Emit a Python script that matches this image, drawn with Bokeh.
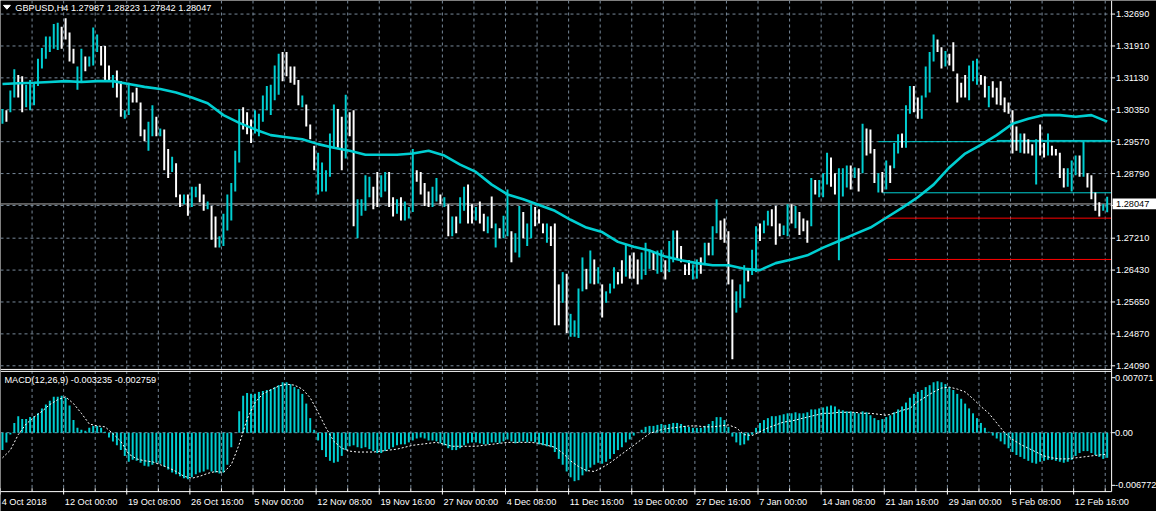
from bokeh.plotting import figure
from bokeh.models import Range1d, ColumnDataSource
from bokeh.core.properties import value
from bokeh.embed import file_html
from bokeh.resources import INLINE

# ---------------- data ----------------
symbol = "GBPUSD,H4"
last_ohlc = ["1.27987", "1.28223", "1.27842", "1.28047"]
bid = 1.28047

# one entry per pair of H4 bars (high, low, 1 = up / 0 = down)
high = [
    1.3037, 1.3034, 1.3082, 1.3134, 1.3120, 1.3117, 1.3096, 1.3108, 1.3098, 1.3160,
    1.3186, 1.3214, 1.3214, 1.3245, 1.3248, 1.3238, 1.3259, 1.3224, 1.3184, 1.3141,
    1.3184, 1.3165, 1.3165, 1.3236, 1.3219, 1.3191, 1.3191, 1.3143, 1.3120, 1.3131,
    1.3105, 1.3034, 1.3101, 1.3077, 1.3089, 1.3053, 1.2987, 1.3006, 1.3046, 1.3018,
    1.2989, 1.2987, 1.2939, 1.2920, 1.2904, 1.2828, 1.2828, 1.2828, 1.2847, 1.2847,
    1.2854, 1.2828, 1.2811, 1.2800, 1.2774, 1.2726, 1.2781, 1.2828, 1.2856, 1.2935,
    1.3037, 1.3041, 1.3029, 1.3011, 1.3034, 1.3025, 1.3070, 1.3093, 1.3096, 1.3143,
    1.3172, 1.3176, 1.3176, 1.3141, 1.3141, 1.3108, 1.3070, 1.3048, 1.2999, 1.2947,
    1.2930, 1.2906, 1.2887, 1.2977, 1.3048, 1.3037, 1.3018, 1.3072, 1.3029, 1.3034,
    1.2816, 1.2816, 1.2875, 1.2871, 1.2847, 1.2883, 1.2875, 1.2883, 1.2883, 1.2821,
    1.2816, 1.2821, 1.2811, 1.2797, 1.2939, 1.2887, 1.2883, 1.2856, 1.2835, 1.2847,
    1.2868, 1.2828, 1.2821, 1.2804, 1.2774, 1.2774, 1.2821, 1.2847, 1.2852, 1.2804,
    1.2797, 1.2811, 1.2781, 1.2774, 1.2823, 1.2757, 1.2745, 1.2776, 1.2840, 1.2738,
    1.2733, 1.2800, 1.2785, 1.2757, 1.2804, 1.2797, 1.2792, 1.2757, 1.2757, 1.2750,
    1.2757, 1.2608, 1.2638, 1.2634, 1.2536, 1.2520, 1.2598, 1.2674, 1.2646, 1.2691,
    1.2669, 1.2650, 1.2608, 1.2591, 1.2610, 1.2650, 1.2638, 1.2667, 1.2705, 1.2679,
    1.2686, 1.2669, 1.2686, 1.2710, 1.2693, 1.2686, 1.2691, 1.2693, 1.2667, 1.2714,
    1.2740, 1.2740, 1.2702, 1.2657, 1.2667, 1.2657, 1.2669, 1.2674, 1.2710, 1.2710,
    1.2750, 1.2816, 1.2764, 1.2769, 1.2738, 1.2620, 1.2591, 1.2608, 1.2655, 1.2646,
    1.2693, 1.2750, 1.2757, 1.2764, 1.2788, 1.2792, 1.2800, 1.2757, 1.2752, 1.2804,
    1.2804, 1.2800, 1.2785, 1.2769, 1.2764, 1.2868, 1.2863, 1.2863, 1.2880, 1.2930,
    1.2918, 1.2880, 1.2892, 1.2892, 1.2899, 1.2899, 1.2894, 1.2892, 1.3001, 1.2989,
    1.2987, 1.2939, 1.2880, 1.2883, 1.2911, 1.2899, 1.2954, 1.2975, 1.2977, 1.3046,
    1.3093, 1.3093, 1.3065, 1.3070, 1.3141, 1.3176, 1.3219, 1.3207, 1.3188, 1.3179,
    1.3172, 1.3200, 1.3124, 1.3101, 1.3120, 1.3143, 1.3155, 1.3160, 1.3120, 1.3117,
    1.3093, 1.3105, 1.3089, 1.3105, 1.3065, 1.3053, 1.3034, 1.2994, 1.2977, 1.2977,
    1.2963, 1.2951, 1.2963, 1.2999, 1.2954, 1.2977, 1.2947, 1.2939, 1.2930, 1.2892,
    1.2892, 1.2911, 1.2923, 1.2923, 1.2958, 1.2880, 1.2875, 1.2833, 1.2809, 1.2804,
    1.28223,
]
low = [
    1.3001, 1.3006, 1.3029, 1.3065, 1.3065, 1.3029, 1.3041, 1.3034, 1.3046, 1.3093,
    1.3136, 1.3160, 1.3176, 1.3184, 1.3181, 1.3184, 1.3207, 1.3153, 1.3148, 1.3084,
    1.3105, 1.3129, 1.3141, 1.3143, 1.3176, 1.3143, 1.3108, 1.3105, 1.3089, 1.3065,
    1.3018, 1.3013, 1.3022, 1.3053, 1.3053, 1.2970, 1.2958, 1.2935, 1.2970, 1.2970,
    1.2970, 1.2887, 1.2868, 1.2883, 1.2821, 1.2797, 1.2804, 1.2776, 1.2797, 1.2821,
    1.2809, 1.2788, 1.2792, 1.2717, 1.2698, 1.2698, 1.2702, 1.2740, 1.2764, 1.2835,
    1.2906, 1.2987, 1.2975, 1.2954, 1.2977, 1.2970, 1.3006, 1.3034, 1.3022, 1.3058,
    1.3072, 1.3105, 1.3117, 1.3101, 1.3096, 1.3046, 1.3041, 1.2994, 1.2963, 1.2887,
    1.2828, 1.2835, 1.2835, 1.2871, 1.2939, 1.2942, 1.2887, 1.2916, 1.2970, 1.2750,
    1.2721, 1.2776, 1.2788, 1.2821, 1.2792, 1.2797, 1.2821, 1.2835, 1.2797, 1.2774,
    1.2781, 1.2764, 1.2764, 1.2769, 1.2785, 1.2859, 1.2828, 1.2800, 1.2797, 1.2797,
    1.2811, 1.2804, 1.2797, 1.2726, 1.2726, 1.2733, 1.2757, 1.2788, 1.2757, 1.2757,
    1.2764, 1.2757, 1.2738, 1.2733, 1.2745, 1.2698, 1.2721, 1.2721, 1.2726, 1.2662,
    1.2686, 1.2674, 1.2721, 1.2702, 1.2721, 1.2750, 1.2757, 1.2733, 1.2710, 1.2702,
    1.2508, 1.2508, 1.2563, 1.2489, 1.2480, 1.2480, 1.2477, 1.2591, 1.2596, 1.2610,
    1.2608, 1.2610, 1.2527, 1.2563, 1.2586, 1.2598, 1.2608, 1.2610, 1.2627, 1.2622,
    1.2622, 1.2608, 1.2620, 1.2631, 1.2646, 1.2643, 1.2634, 1.2638, 1.2620, 1.2638,
    1.2662, 1.2669, 1.2662, 1.2631, 1.2631, 1.2620, 1.2622, 1.2634, 1.2655, 1.2679,
    1.2679, 1.2733, 1.2717, 1.2710, 1.2608, 1.2425, 1.2539, 1.2551, 1.2574, 1.2615,
    1.2631, 1.2638, 1.2714, 1.2733, 1.2752, 1.2750, 1.2705, 1.2726, 1.2729, 1.2726,
    1.2757, 1.2745, 1.2729, 1.2738, 1.2710, 1.2750, 1.2828, 1.2821, 1.2821, 1.2852,
    1.2847, 1.2828, 1.2667, 1.2823, 1.2845, 1.2840, 1.2868, 1.2835, 1.2880, 1.2923,
    1.2928, 1.2856, 1.2833, 1.2833, 1.2840, 1.2856, 1.2892, 1.2928, 1.2942, 1.2942,
    1.3025, 1.3029, 1.3013, 1.3013, 1.3065, 1.3077, 1.3153, 1.3176, 1.3136, 1.3141,
    1.3143, 1.3129, 1.3053, 1.3065, 1.3065, 1.3058, 1.3105, 1.3096, 1.3096, 1.3065,
    1.3041, 1.3065, 1.3048, 1.3046, 1.3029, 1.3025, 1.2928, 1.2935, 1.2930, 1.2928,
    1.2928, 1.2923, 1.2852, 1.2923, 1.2918, 1.2923, 1.2923, 1.2923, 1.2868, 1.2845,
    1.2847, 1.2835, 1.2875, 1.2871, 1.2871, 1.2845, 1.2816, 1.2788, 1.2774, 1.2788,
    1.27842,
]
up = [
    1, 0, 1, 1, 0, 0, 1, 1, 1, 1,
    1, 1, 1, 1, 1, 0, 0, 0, 0, 1,
    1, 0, 1, 1, 1, 0, 0, 0, 1, 0,
    0, 1, 1, 0, 0, 0, 0, 1, 1, 0,
    1, 0, 0, 1, 0, 0, 1, 0, 1, 1,
    0, 0, 1, 0, 0, 1, 1, 1, 1, 1,
    1, 0, 0, 0, 1, 1, 1, 1, 1, 1,
    1, 0, 0, 0, 0, 0, 1, 0, 0, 0,
    1, 1, 1, 1, 1, 0, 0, 1, 0, 0,
    1, 1, 1, 1, 0, 0, 1, 1, 0, 0,
    1, 0, 1, 1, 1, 0, 0, 0, 0, 1,
    1, 0, 1, 0, 1, 0, 1, 1, 0, 0,
    1, 0, 0, 1, 0, 1, 0, 1, 1, 0,
    1, 1, 0, 1, 1, 0, 0, 0, 1, 0,
    0, 0, 1, 0, 1, 1, 1, 1, 0, 1,
    0, 1, 0, 1, 1, 1, 0, 0, 1, 0,
    0, 0, 1, 1, 1, 0, 1, 1, 0, 1,
    1, 0, 0, 0, 0, 1, 1, 0, 1, 0,
    1, 1, 0, 0, 0, 0, 1, 1, 1, 0,
    1, 1, 0, 1, 1, 0, 0, 0, 1, 1,
    0, 1, 0, 0, 0, 1, 0, 1, 1, 1,
    0, 0, 1, 1, 1, 0, 1, 0, 1, 0,
    0, 0, 1, 0, 1, 0, 1, 1, 0, 1,
    1, 0, 0, 1, 1, 1, 1, 0, 0, 1,
    0, 0, 0, 0, 0, 1, 1, 1, 0, 0,
    1, 0, 0, 0, 0, 0, 0, 0, 1, 0,
    0, 0, 1, 0, 0, 1, 0, 0, 0, 0,
    1, 1, 1, 0, 1, 0, 0, 0, 0, 1,
    1,
]
# moving average, one reading every 4 entries
ma = [
    1.3098, 1.3100, 1.3101, 1.3103, 1.3105, 1.3103, 1.3105, 1.3105, 1.3098, 1.3091,
    1.3086, 1.3077, 1.3065, 1.3051, 1.3022, 1.3003, 1.2987, 1.2973, 1.2968, 1.2963,
    1.2951, 1.2942, 1.2935, 1.2925, 1.2925, 1.2925, 1.2928, 1.2935, 1.2923, 1.2901,
    1.2883, 1.2852, 1.2828, 1.2816, 1.2802, 1.2788, 1.2766, 1.2747, 1.2736, 1.2712,
    1.2700, 1.2691, 1.2676, 1.2667, 1.2660, 1.2655, 1.2655, 1.2646, 1.2643, 1.2660,
    1.2669, 1.2679, 1.2698, 1.2714, 1.2731, 1.2747, 1.2771, 1.2795, 1.2821, 1.2852,
    1.2894, 1.2928, 1.2949, 1.2973, 1.3001, 1.3013, 1.3022, 1.3022, 1.3018, 1.3022,
    1.3006,
]
# horizontal levels: (price, first entry)
cyan_levels = [(1.2957, 222), (1.2960, 252), (1.2832, 223)]
red_levels = [(1.2770, 223), (1.2669, 224.5)]

# MACD histogram, one value per entry
macd = [
    -0.00224, -0.00125, -0.00025, 0.00125, 0.00212, 0.00175, 0.00175, 0.00200, 0.00212, 0.00249,
    0.00312, 0.00362, 0.00412, 0.00461, 0.00461, 0.00474, 0.00449, 0.00349, 0.00162, 0.00062,
    0.00037, 0.00025, 0.00062, 0.00087, 0.00087, 0.00062, 0.00012, -0.00062, -0.00112, -0.00162,
    -0.00224, -0.00299, -0.00374, -0.00349, -0.00362, -0.00387, -0.00424, -0.00436, -0.00412, -0.00387,
    -0.00399, -0.00436, -0.00474, -0.00511, -0.00536, -0.00561, -0.00586, -0.00599, -0.00574, -0.00536,
    -0.00511, -0.00499, -0.00474, -0.00499, -0.00511, -0.00524, -0.00511, -0.00412, -0.00187, 0.00000,
    0.00274, 0.00474, 0.00511, 0.00499, 0.00499, 0.00524, 0.00536, 0.00549, 0.00561, 0.00586,
    0.00611, 0.00648, 0.00648, 0.00624, 0.00586, 0.00561, 0.00499, 0.00374, 0.00187, 0.00037,
    -0.00100, -0.00224, -0.00312, -0.00362, -0.00387, -0.00374, -0.00299, -0.00224, -0.00175, -0.00162,
    -0.00187, -0.00200, -0.00187, -0.00212, -0.00237, -0.00262, -0.00262, -0.00237, -0.00212, -0.00187,
    -0.00162, -0.00150, -0.00150, -0.00125, -0.00100, -0.00075, -0.00062, -0.00075, -0.00100, -0.00100,
    -0.00112, -0.00137, -0.00162, -0.00200, -0.00224, -0.00224, -0.00200, -0.00162, -0.00137, -0.00125,
    -0.00125, -0.00137, -0.00150, -0.00150, -0.00125, -0.00125, -0.00137, -0.00112, -0.00087, -0.00112,
    -0.00137, -0.00125, -0.00112, -0.00125, -0.00112, -0.00125, -0.00150, -0.00162, -0.00175, -0.00187,
    -0.00249, -0.00337, -0.00412, -0.00499, -0.00574, -0.00624, -0.00611, -0.00549, -0.00499, -0.00449,
    -0.00412, -0.00387, -0.00399, -0.00374, -0.00337, -0.00274, -0.00224, -0.00187, -0.00125, -0.00087,
    -0.00037, 0.00000, 0.00037, 0.00075, 0.00087, 0.00087, 0.00100, 0.00112, 0.00100, 0.00112,
    0.00125, 0.00125, 0.00112, 0.00087, 0.00075, 0.00062, 0.00062, 0.00062, 0.00087, 0.00112,
    0.00150, 0.00200, 0.00200, 0.00162, 0.00075, -0.00050, -0.00125, -0.00162, -0.00150, -0.00100,
    -0.00025, 0.00062, 0.00125, 0.00162, 0.00187, 0.00212, 0.00212, 0.00224, 0.00237, 0.00249,
    0.00249, 0.00262, 0.00249, 0.00249, 0.00262, 0.00299, 0.00299, 0.00312, 0.00324, 0.00337,
    0.00349, 0.00337, 0.00299, 0.00287, 0.00274, 0.00274, 0.00262, 0.00249, 0.00274, 0.00262,
    0.00224, 0.00187, 0.00162, 0.00175, 0.00200, 0.00224, 0.00262, 0.00299, 0.00337, 0.00387,
    0.00449, 0.00499, 0.00524, 0.00549, 0.00586, 0.00611, 0.00648, 0.00661, 0.00648, 0.00624,
    0.00586, 0.00549, 0.00499, 0.00436, 0.00374, 0.00312, 0.00249, 0.00187, 0.00125, 0.00062,
    0.00012, -0.00037, -0.00075, -0.00112, -0.00150, -0.00200, -0.00249, -0.00287, -0.00312, -0.00337,
    -0.00362, -0.00387, -0.00399, -0.00374, -0.00362, -0.00349, -0.00349, -0.00362, -0.00374, -0.00387,
    -0.00374, -0.00349, -0.00299, -0.00262, -0.00237, -0.00237, -0.00262, -0.00287, -0.00312, -0.00337,
    -0.003235,
]
# MACD signal line, one value every 2 entries
signal = [
    -0.00324, -0.00224, -0.00025, 0.00112, 0.00200, 0.00274, 0.00362, 0.00424, 0.00461, 0.00374,
    0.00249, 0.00112, 0.00087, 0.00075, -0.00012, -0.00112, -0.00274, -0.00337, -0.00362, -0.00374,
    -0.00412, -0.00449, -0.00499, -0.00561, -0.00586, -0.00561, -0.00524, -0.00499, -0.00511, -0.00412,
    -0.00150, 0.00175, 0.00387, 0.00499, 0.00549, 0.00599, 0.00624, 0.00611, 0.00561, 0.00449,
    0.00262, 0.00062, -0.00112, -0.00200, -0.00237, -0.00249, -0.00249, -0.00249, -0.00237, -0.00224,
    -0.00212, -0.00187, -0.00162, -0.00150, -0.00137, -0.00125, -0.00150, -0.00175, -0.00175, -0.00175,
    -0.00175, -0.00162, -0.00150, -0.00137, -0.00125, -0.00125, -0.00125, -0.00125, -0.00137, -0.00162,
    -0.00187, -0.00262, -0.00362, -0.00436, -0.00486, -0.00499, -0.00449, -0.00387, -0.00312, -0.00237,
    -0.00162, -0.00087, -0.00012, 0.00025, 0.00050, 0.00062, 0.00075, 0.00087, 0.00087, 0.00075,
    0.00075, 0.00087, 0.00100, 0.00062, -0.00025, -0.00037, 0.00012, 0.00062, 0.00100, 0.00137,
    0.00150, 0.00175, 0.00200, 0.00224, 0.00249, 0.00249, 0.00262, 0.00262, 0.00262, 0.00249,
    0.00249, 0.00237, 0.00224, 0.00249, 0.00287, 0.00312, 0.00399, 0.00461, 0.00524, 0.00574,
    0.00586, 0.00561, 0.00524, 0.00436, 0.00337, 0.00249, 0.00125, 0.00000, -0.00087, -0.00150,
    -0.00200, -0.00249, -0.00299, -0.00324, -0.00337, -0.00337, -0.00324, -0.00312, -0.00299, -0.00287,
    -0.002759,
]
macd_last = ["-0.003235", "-0.002759"]

price_ticks = [1.32690, 1.31910, 1.31130, 1.30350, 1.29570, 1.28790, 1.28010,
               1.27210, 1.26430, 1.25650, 1.24870, 1.24090]
price_labels = ["1.32690", "1.31910", "1.31130", "1.30350", "1.29570", "1.28790", "",
                "1.27210", "1.26430", "1.25650", "1.24870", "1.24090"]
macd_ticks = [0.007071, 0.0, -0.006772]
macd_labels = ["0.007071", "0.00", "-0.006772"]
time_labels = ["4 Oct 2018", "12 Oct 00:00", "19 Oct 08:00", "26 Oct 16:00", "5 Nov 00:00",
               "12 Nov 08:00", "19 Nov 16:00", "27 Nov 00:00", "4 Dec 08:00", "11 Dec 16:00",
               "19 Dec 00:00", "27 Dec 16:00", "7 Jan 00:00", "14 Jan 08:00", "21 Jan 16:00",
               "29 Jan 00:00", "5 Feb 08:00", "12 Feb 16:00"]
time_pos = [16 * k - 0.5 for k in range(len(time_labels))]

assert len(high) == len(low) == len(up) == len(macd), (len(high), len(low), len(up), len(macd))

# ---------------- layout ----------------
W, H = 1156, 511
RW, RH = 1172, 527              # reference coordinate frame
P_TOP, P_PX = 1.33022, 0.0002371
M_REF, M_PX = 0.007071, 0.0001247
CYAN = "#00CED1"
GRID = "#778899"
FONT = value("Liberation Sans")
FS = "9.2px"

p = figure(width=W, height=H, output_backend="svg", toolbar_location=None,
           x_range=Range1d(-0.5, (RW - 2) / 4),
           y_range=Range1d(P_TOP - RH * P_PX, P_TOP),
           x_axis_type=None, y_axis_type=None, min_border=0, title=None)
p.extra_x_ranges = {"px": Range1d(0, RW)}
p.extra_y_ranges = {"px": Range1d(RH, 0),
                    "macd": Range1d(M_REF - (RH - 389) * M_PX, M_REF + 389 * M_PX)}
p.background_fill_color = "black"
p.border_fill_color = "black"
p.outline_line_color = None
p.grid.visible = False

PX = dict(x_range_name="px", y_range_name="px")

# grid
gx = list(range(32, 1121, 32))
p.segment(x0=gx, x1=gx, y0=[0] * len(gx), y1=[380] * len(gx), line_color=GRID,
          line_dash="3 3", line_width=1, **PX)
p.segment(x0=gx, x1=gx, y0=[382] * len(gx), y1=[506] * len(gx), line_color=GRID,
          line_dash="3 3", line_width=1, **PX)
p.segment(x0=[0] * len(price_ticks), x1=[1126] * len(price_ticks), y0=price_ticks, y1=price_ticks,
          line_color=GRID, line_dash="3 3", line_width=1, x_range_name="px")
p.segment(x0=[0], x1=[1126], y0=[0], y1=[0], line_color=GRID, line_dash="3 3", line_width=1,
          x_range_name="px", y_range_name="macd")

# levels
p.segment(x0=[0], x1=[1126], y0=[bid], y1=[bid], line_color="#B0B0B0", line_width=1,
          x_range_name="px")
idx_end = (1126 - 2) / 4
p.segment(x0=[s for _, s in cyan_levels], x1=[idx_end] * len(cyan_levels),
          y0=[v for v, _ in cyan_levels], y1=[v for v, _ in cyan_levels],
          line_color=CYAN, line_width=1)
p.segment(x0=[s for _, s in red_levels], x1=[idx_end] * len(red_levels),
          y0=[v for v, _ in red_levels], y1=[v for v, _ in red_levels],
          line_color="#FF0000", line_width=1)

# price bars
idx = list(range(len(high)))
src = ColumnDataSource(dict(x=idx, top=high, bottom=low,
                            c=[CYAN if u else "#FFFFFF" for u in up]))
p.vbar(x="x", top="top", bottom="bottom", width=0.5, source=src, fill_color="c",
       line_color=None)

# moving average
p.line(x=[4 * k for k in range(len(ma))], y=ma, line_color=CYAN, line_width=2.6)

# MACD
p.vbar(x=idx, top=macd, bottom=0, width=0.5, fill_color=CYAN, line_color=None,
       y_range_name="macd")
p.line(x=[2 * k for k in range(len(signal))], y=signal, line_color="white", line_dash="2 2",
       line_width=1, y_range_name="macd")

# frame lines
p.segment(x0=[1126.5, 0, 0, 0], x1=[1126.5, 1126.5, 1126.5, 1126.5],
          y0=[0, 380.5, 382.5, 506.5], y1=[506.5, 380.5, 382.5, 506.5],
          line_color="white", line_width=1, **PX)

# right axis ticks + labels
p.segment(x0=[1126.5] * len(price_ticks), x1=[1130] * len(price_ticks), y0=price_ticks,
          y1=price_ticks, line_color="white", x_range_name="px")
p.text(x=[1131] * len(price_ticks), y=price_ticks, text=price_labels, text_font=FONT,
       text_font_size=FS, text_color="white", text_baseline="middle", x_range_name="px")
p.segment(x0=[1126.5] * 3, x1=[1130] * 3, y0=macd_ticks, y1=macd_ticks, line_color="white",
          x_range_name="px", y_range_name="macd")
p.text(x=[1130] * 3, y=macd_ticks, text=macd_labels, text_font=FONT, text_font_size=FS,
       text_color="white", text_baseline="middle", x_range_name="px", y_range_name="macd")

# bid box
hh = 5.5 * P_PX
p.quad(left=[1127.5], right=[RW], top=[bid + hh], bottom=[bid - hh], fill_color="white",
       line_color=None, x_range_name="px")
p.text(x=[1131], y=[bid], text=[f"{bid:.5f}"], text_font=FONT, text_font_size=FS,
       text_color="black", text_baseline="middle", x_range_name="px")

# time axis
p.segment(x0=time_pos, x1=time_pos, y0=[503] * len(time_pos), y1=[509.5] * len(time_pos),
          line_color="white", y_range_name="px")
mid = [t + 8 for t in time_pos]
p.segment(x0=mid, x1=mid, y0=[503] * len(mid), y1=[506.5] * len(mid), line_color="white",
          y_range_name="px")
p.text(x=[t + 0.3 for t in time_pos], y=[517.5] * len(time_pos), text=time_labels, text_font=FONT,
       text_font_size=FS, text_color="white", text_baseline="middle", y_range_name="px")

# headers
p.patch(x=[3, 10, 6.5], y=[5, 5, 9], fill_color="white", line_color="white", **PX)
p.text(x=[15], y=[7.5], text=[symbol + "  " + " ".join(last_ohlc)], text_font=FONT,
       text_font_size=FS, text_color="white", text_baseline="middle", **PX)
p.text(x=[4], y=[391], text=["MACD(12,26,9) " + " ".join(macd_last)], text_font=FONT,
       text_font_size=FS, text_color="white", text_baseline="middle", **PX)

open("out.html", "w").write(file_html(p, INLINE))
